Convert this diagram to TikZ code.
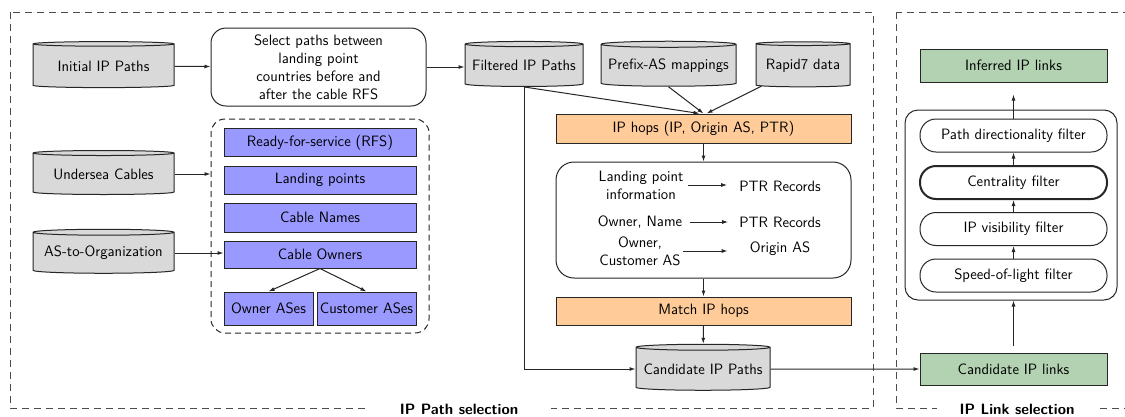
\documentclass[tikz,border=0pt]{standalone}
\usepackage{fontspec}
\usetikzlibrary{shapes.geometric,arrows.meta,positioning}
\definecolor{dbgray}{RGB}{217,217,217}
\definecolor{cpurple}{RGB}{153,153,255}
\definecolor{corange}{RGB}{255,204,153}
\definecolor{cgreen}{RGB}{178,210,178}
\tikzset{
  every node/.style={font=\sffamily\fontsize{15}{18}\selectfont, inner sep=0pt, align=center},
  lw/.style={line width=1pt, draw=black!85},
  db/.style={lw, cylinder, shape border rotate=90, aspect=0.05, fill=dbgray},
  selbox/.style={lw, rounded corners=15pt},
  pbox/.style={lw, fill=cpurple, minimum width=192pt, minimum height=28pt},
  obox/.style={lw, fill=corange, minimum width=295pt, minimum height=29pt},
  gbox/.style={lw, fill=cgreen, minimum width=187pt, minimum height=33pt},
  filt/.style={lw, rounded corners=16pt, minimum width=187pt, minimum height=33pt},
  grpbox/.style={line width=1pt, draw=black!85, dash pattern=on 6pt off 4pt, rounded corners=14pt},
  section/.style={line width=1pt, draw=black!70, dash pattern=on 7pt off 5pt},
  arr/.style={line width=1pt, draw=black!85, -{Latex[length=6pt,width=4pt]}},
  ttl/.style={font=\sffamily\bfseries\fontsize{15}{18}\selectfont, fill=white},
}
\begin{document}
\begin{tikzpicture}[x=1pt,y=-1pt]
\clip (0,0) rectangle (1125,416);
\fill[white] (0,0) rectangle (1125,416);
% section boxes
\draw[section] (10,12) rectangle (873,408);
\draw[section] (896,12) rectangle (1145,408);
\node[ttl, inner xsep=33pt, inner ysep=2pt] (t1) at (459,409) {IP Path selection};
\node[ttl, inner xsep=23pt, inner ysep=2pt] (t2) at (1017,409) {IP Link selection};

% left column
\node[db, minimum width=141pt, minimum height=46pt] (init) at (103.5,66) {Initial IP Paths};
\node[db, minimum width=141pt, minimum height=44pt] (sea) at (103.5,174) {Undersea Cables};
\node[db, minimum width=141pt, minimum height=44pt] (as2org) at (103.5,253) {AS-to-Organization};

\node[selbox, minimum width=215pt, minimum height=78pt] (sel) at (318.5,67)
  {Select paths between\\landing point\\countries before and\\after the cable RFS};

\node[grpbox, minimum width=218pt, minimum height=214pt] (grp) at (320,226) {};
\node[pbox] (rfs) at (320,142.5) {Ready-for-service (RFS)};
\node[pbox] (lp) at (320,180) {Landing points};
\node[pbox, minimum height=29pt] (cn) at (320,217.5) {Cable Names};
\node[pbox, minimum height=27pt] (co) at (320,254.5) {Cable Owners};
\node[lw, fill=cpurple, minimum width=89pt, minimum height=33pt] (oas) at (268.5,308.5) {Owner ASes};
\node[lw, fill=cpurple, minimum width=99pt, minimum height=33pt] (cas) at (366.5,308.5) {Customer ASes};

% middle
\node[db, minimum width=118pt, minimum height=45pt] (filtp) at (524,65.5) {Filtered IP Paths};
\node[db, minimum width=135pt, minimum height=45pt] (pref) at (668.5,65.5) {Prefix-AS mappings};
\node[db, minimum width=94pt, minimum height=45pt] (rap) at (803,65.5) {Rapid7 data};

\node[obox] (hops) at (703.5,128.5) {IP hops (IP, Origin AS, PTR)};
\node[lw, rounded corners=18pt, minimum width=295pt, minimum height=116pt] (big) at (703.5,220) {};
\node (l1) at (641,185) {Landing point\\information};
\node (r1) at (780,186) {PTR Records};
\node (l2) at (640,222) {Owner, Name};
\node (r2) at (780,222) {PTR Records};
\node (l3) at (640,251) {Owner,\\Customer AS};
\node (r3) at (780,249) {Origin AS};
\node[obox, minimum height=28pt] (match) at (703.5,311) {Match IP hops};
\node[db, minimum width=134pt, minimum height=46pt] (cand) at (703,369) {Candidate IP Paths};

% right
\node[gbox] (inf) at (1013.5,65.5) {Inferred IP links};
\node[lw, rounded corners=13pt, minimum width=212pt, minimum height=190pt] (fbox) at (1011,205) {};
\node[filt] (pdf) at (1013.5,135.5) {Path directionality filter};
\node[filt, line width=2pt] (cf) at (1013.5,182.5) {Centrality filter};
\node[filt] (ipv) at (1013.5,229) {IP visibility filter};
\node[filt] (sol) at (1013.5,275.5) {Speed-of-light filter};
\node[gbox, minimum height=32pt] (cil) at (1013.5,369) {Candidate IP links};

% connectors
\draw[arr] (init) -- (sel);
\draw[arr] (sel.east) -- (filtp.west |- sel.east);
\draw[arr] (sea) -- (grp.west |- sea);
\draw[arr] (as2org.east) -- (co.west |- as2org.east);
\draw[arr] (co.south) -- (oas.north);
\draw[arr] (co.south) -- (cas.north);
\draw[arr] (filtp.south) -- ([xshift=-4pt]hops.north);
\draw[arr] (pref.south) -- (hops.north);
\draw[arr] (rap) -- ([xshift=3pt]hops.north);
\draw[arr] (hops) -- (big);
\draw[arr, shorten <=4pt, shorten >=12pt] (l1.east) -- (l1.east -| r1.west);
\draw[arr, shorten <=8pt, shorten >=11pt] (l2.east) -- (r2.west);
\draw[arr, shorten <=2pt, shorten >=22pt] (l3.east) -- (l3.east -| r3.west);
\draw[arr] (big) -- (match);
\draw[arr] (match) -- (cand);
\draw[arr] (filtp.south) |- (cand.west);
\draw[arr] (cand.east) -- (cil.west);
\draw[arr, shorten <=7pt] (cil.north) -- (cil.north |- fbox.south);
\draw[arr] (sol) -- (ipv);
\draw[arr] (ipv) -- (cf);
\draw[arr] (cf) -- (pdf);
\draw[arr, shorten >=12pt] (pdf.north) -- (inf.south);
\end{tikzpicture}
\end{document}
